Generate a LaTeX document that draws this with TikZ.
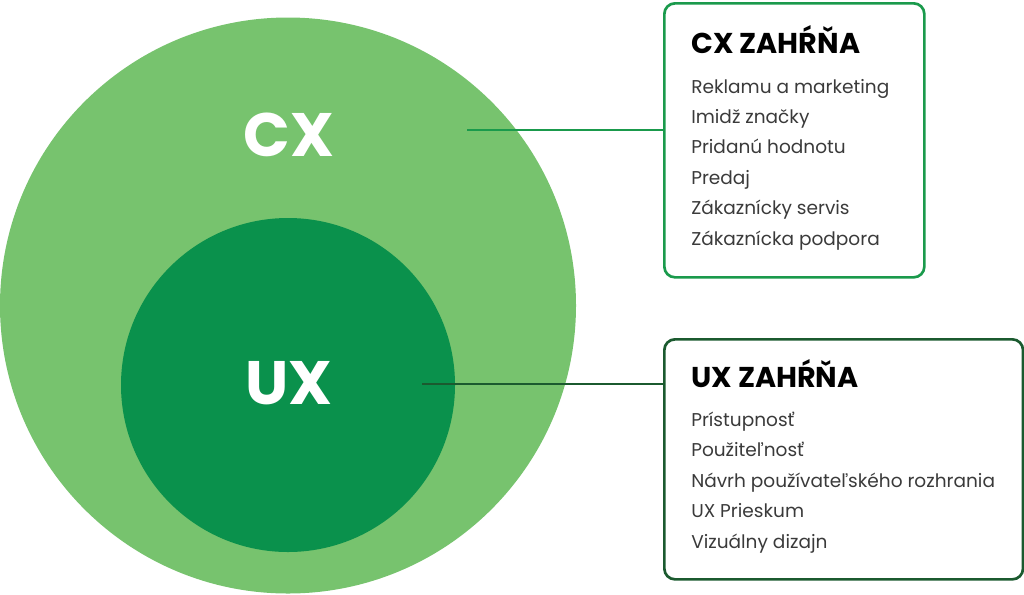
\documentclass[tikz,border=0pt]{standalone}
\usepackage{fontspec}
\setmainfont{Poppins}
\definecolor{cxfill}{HTML}{77C36E}
\definecolor{uxfill}{HTML}{0A914C}
\definecolor{cxline}{HTML}{1A9A4C}
\definecolor{uxline}{HTML}{1B5A2F}
\definecolor{itemgray}{HTML}{3A3A3A}
\begin{document}
\begin{tikzpicture}[x=0.75pt, y=-0.75pt,
    bigtext/.style={text=white, font=\fontsize{46}{46}\selectfont\bfseries, anchor=base},
    panel/.style={draw, line width=2pt, rounded corners=8pt, anchor=north west},
    heading/.style={anchor=base west, font=\fontsize{21.5}{23}\selectfont\bfseries, inner sep=0pt},
    item/.style={anchor=base west, text=itemgray, font=\fontsize{13.9}{15}\selectfont, inner sep=0pt}]
  \useasboundingbox (0, 0) rectangle (1024, 594);

  \fill [cxfill] (288, 305.5) circle [radius=288];
  \fill [uxfill] (288, 385) circle [radius=167];
  \node [bigtext] (cx) at (289, 156) {CX};
  \node [bigtext] (ux) at (289, 404) {UX};

  \node [panel, draw=cxline, minimum width=195pt, minimum height=205.5pt] (cxbox) at (663, 2) {};
  \node [panel, draw=uxline, minimum width=269pt, minimum height=180pt] (uxbox) at (663, 338) {};

  \coordinate (cxend) at (467, 130);
  \coordinate (uxend) at (422, 384);
  \draw [cxline, line width=1.6pt] (cxend) -- (cxend -| cxbox.west);
  \draw [uxline, line width=1.6pt] (uxend) -- (uxend -| uxbox.west);

  \node [heading] (cxtitle) at (691, 53) {CX ZAHŔŇA};
  \foreach \t [count=\i] in {Reklamu a marketing, Imidž značky, Pridanú hodnotu,
      Predaj, Zákaznícky servis, Zákaznícka podpora} {
    \node [item] (cxitem\i) at (691, 93 + 30.4*\i - 30.4) {\t};
  }

  \node [heading] (uxtitle) at (691, 387) {UX ZAHŔŇA};
  \foreach \t [count=\i] in {Prístupnosť, Použiteľnosť, Návrh používateľského rozhrania,
      UX Prieskum, Vizuálny dizajn} {
    \node [item] (uxitem\i) at (691, 426 + 30.5*\i - 30.5) {\t};
  }
\end{tikzpicture}
\end{document}
